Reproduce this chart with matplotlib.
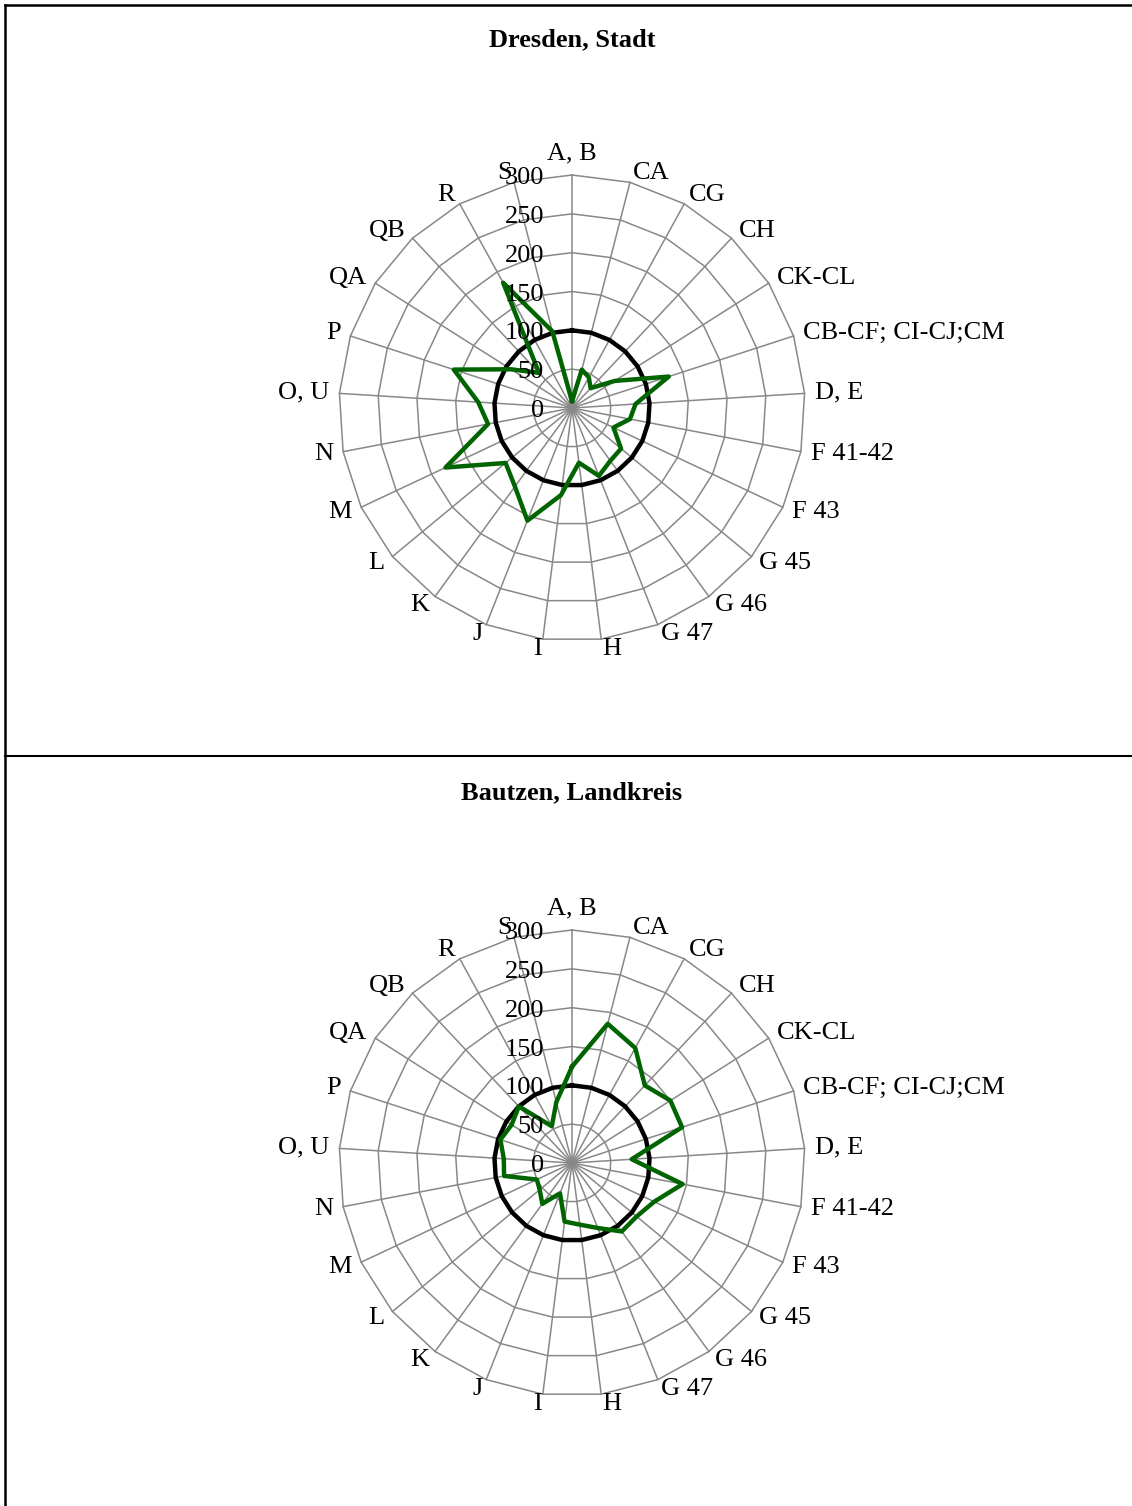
import numpy as np
import matplotlib.pyplot as plt
from matplotlib.lines import Line2D

plt.rcParams['font.family'] = ['Liberation Serif', 'DejaVu Serif']

# Kategorien (Wirtschaftsabschnitte)
kategorien = ['A, B', 'CA', 'CG', 'CH', 'CK-CL', 'CB-CF; CI-CJ;CM', 'D, E',
              'F 41-42', 'F 43', 'G 45', 'G 46', 'G 47', 'H', 'I', 'J', 'K',
              'L', 'M', 'N', 'O, U', 'P', 'QA', 'QB', 'R', 'S']

# Werte
dresden = [9, 51, 45, 35, 65, 131, 82, 76, 59, 82, 84, 94, 71, 113, 156, 125,
           111, 180, 110, 121, 160, 93, 62, 184, 102]
bautzen = [124, 185, 169, 137, 150, 149, 77, 145, 117, 108, 109, 90, 80, 76,
           42, 65, 54, 50, 89, 88, 97, 92, 100, 54, 81]
referenz = [100] * len(kategorien)

titel = ['Dresden, Stadt', 'Bautzen, Landkreis']
reihen = [dresden, bautzen]

r_ticks = np.arange(0, 301, 50)
r_ringe = np.arange(50, 301, 50)

W, H = 1132, 1506
fig = plt.figure(figsize=(W / 100, H / 100), dpi=100)

n = len(kategorien)
winkel = np.arange(n) * 2 * np.pi / n

L = 400.0           # halbe Achsenbreite in Dateneinheiten
px = 233.0 / 300.0  # Pixel pro Einheit
zentren = [(572, 408), (572, 1163)]
titel_y = [40, 793]


def xy(werte):
    w = np.append(winkel, winkel[0])
    v = np.append(werte, werte[0])
    return v * np.sin(w), v * np.cos(w)


for k in range(2):
    cx, cy = zentren[k]
    half = L * px
    ax = fig.add_axes([(cx - half) / W, (H - cy - half) / H, 2 * half / W, 2 * half / H])
    ax.set_xlim(-L, L)
    ax.set_ylim(-L, L)
    ax.axis('off')

    # Gitter
    for r in r_ringe:
        gx, gy = xy(np.full(n, r))
        ax.plot(gx, gy, color='#888888', lw=1.1, zorder=1)
    for w in winkel:
        ax.plot([0, 300 * np.sin(w)], [0, 300 * np.cos(w)], color='#888888', lw=1.1, zorder=1)

    # Reihen
    rx, ry = xy(referenz)
    ax.plot(rx, ry, color='black', lw=3.2, zorder=3)
    sx, sy = xy(reihen[k])
    ax.plot(sx, sy, color='#006400', lw=3.2, zorder=4)

    # Achsenbeschriftung
    for t in r_ticks:
        ax.text(-36, t - 4, str(t), ha='right', va='center', fontsize=19, zorder=5)

    for w, name in zip(winkel, kategorien):
        s, c = np.sin(w), np.cos(w)
        if s > 0.05:
            ha = 'left'
        elif s < -0.05:
            ha = 'right'
        else:
            ha = 'center'
        va = 'center'
        rr = 313
        if abs(s) < 0.05:
            va = 'bottom'
        ax.text(rr * s, rr * c, name, ha=ha, va=va, fontsize=19)

    fig.text(cx / W, 1 - titel_y[k] / H, titel[k], ha='center', va='center',
             fontsize=19, fontweight='bold')

# Rahmen
fig.add_artist(Line2D([5 / W, 5 / W], [0, 1 - 5 / H], color='black', lw=1.8))
fig.add_artist(Line2D([5 / W, 1], [1 - 5 / H, 1 - 5 / H], color='black', lw=1.8))
fig.add_artist(Line2D([5 / W, 1], [1 - 756 / H, 1 - 756 / H], color='black', lw=1.5))

fig.savefig('out.png', dpi=100)
